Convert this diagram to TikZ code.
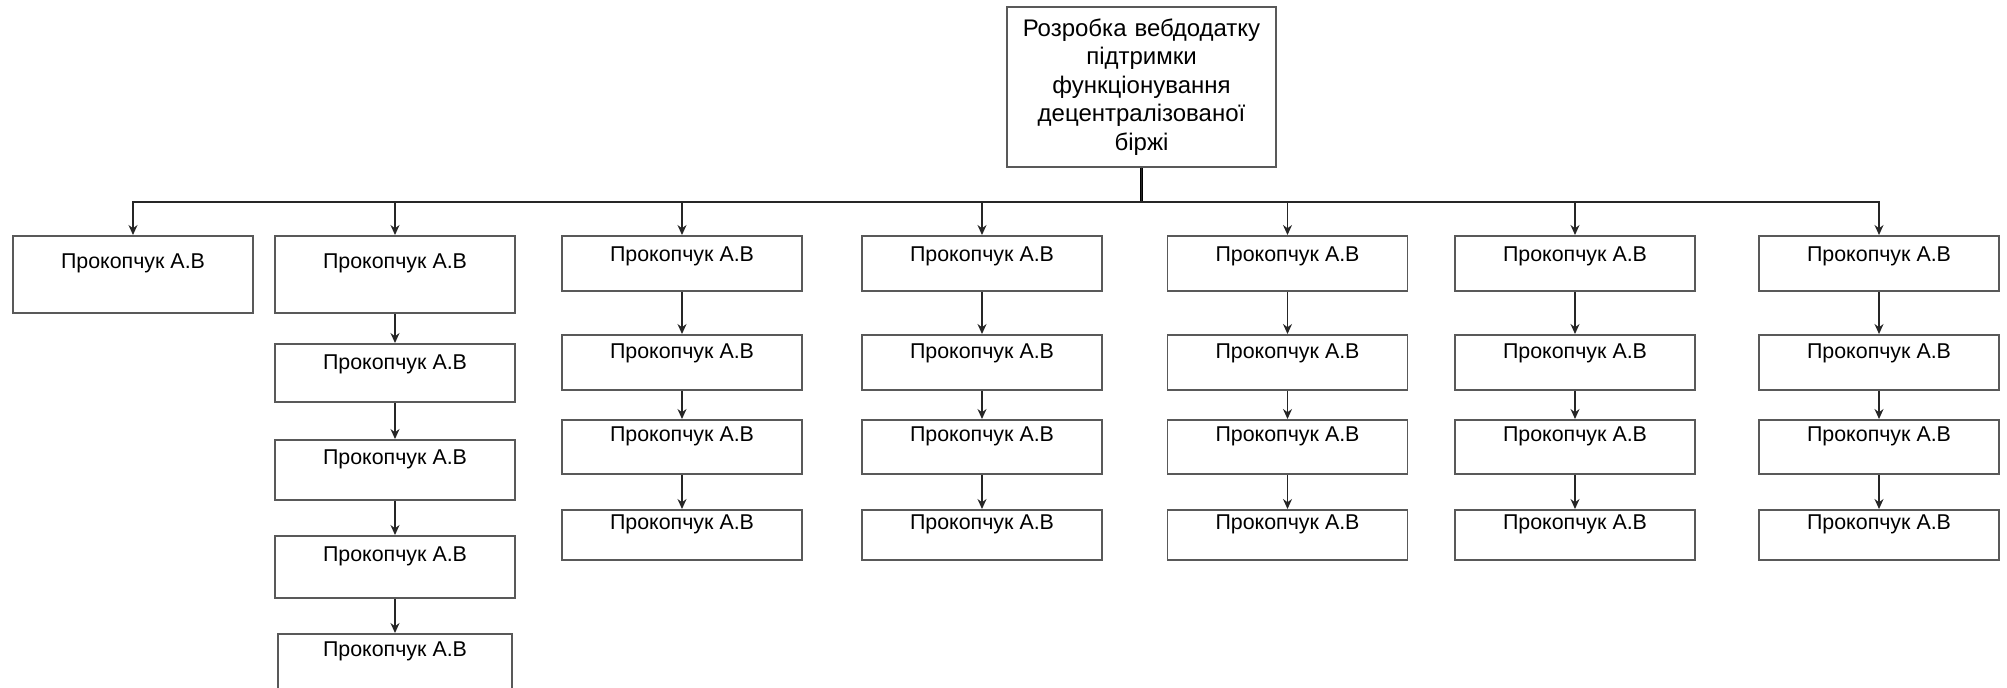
\documentclass[tikz,border=0pt]{standalone}
\usepackage{fontspec}
\setmainfont{Liberation Sans}
\usetikzlibrary{arrows.meta}

\tikzset{
  ramka/.style 2 args={draw=black!65, line width=0.9pt, minimum width=120pt, inner xsep=0pt, inner ysep=#1,
    text height=7.7pt, text depth=#2, anchor=north, font=\fontsize{10.7}{12}\selectfont},
  strilka/.style={-{Stealth[length=5pt,width=4.5pt]}, line width=0.7pt, black!85}
}

\begin{document}
\begin{tikzpicture}[x=0.5pt, y=-0.5pt]
\useasboundingbox (0,0) rectangle (2007,687);

% Головний блок
\node [draw=black!65, line width=0.9pt, minimum height=80pt, text width=130pt, inner xsep=2.25pt,
  align=center, font=\fontsize{12}{14.2}\selectfont] (korin) at (1141.5,87)
  {Розробка вебдодатку\\ підтримки\\ функціонування\\ децентралізованої\\ біржі};

% Рівень шини
\coordinate (shyna) at (1141.5,202);

% Стовпець 1
\node [ramka={8.5pt}{13.8pt}] (p11) at (133,235) {Прокопчук А.В};

% Стовпець 2
\node [ramka={8.5pt}{13.8pt}] (p21) at (395,235) {Прокопчук А.В};
\node [ramka={5pt}{11.3pt}] (p22) at (395,343) {Прокопчук А.В};
\node [ramka={4.5pt}{13.3pt}] (p23) at (395,439) {Прокопчук А.В};
\node [ramka={5pt}{13.3pt}] (p24) at (395,535) {Прокопчук А.В};
\node [ramka={3.5pt}{15.3pt}, minimum width=117pt] (p25) at (395,633) {Прокопчук А.В};

% Стовпець 3
\node [ramka={5pt}{9.8pt}] (p31) at (682,235) {Прокопчук А.В};
\node [ramka={4pt}{11.8pt}] (p32) at (682,334) {Прокопчук А.В};
\node [ramka={3pt}{13.3pt}] (p33) at (682,419) {Прокопчук А.В};
\node [ramka={2pt}{13.3pt}] (p34) at (682,509) {Прокопчук А.В};

% Стовпець 4
\node [ramka={5pt}{9.8pt}] (p41) at (982,235) {Прокопчук А.В};
\node [ramka={4pt}{11.8pt}] (p42) at (982,334) {Прокопчук А.В};
\node [ramka={3pt}{13.3pt}] (p43) at (982,419) {Прокопчук А.В};
\node [ramka={2pt}{13.3pt}] (p44) at (982,509) {Прокопчук А.В};

% Стовпець 5
\node [ramka={5pt}{9.8pt}] (p51) at (1287.5,235) {Прокопчук А.В};
\node [ramka={4pt}{11.8pt}] (p52) at (1287.5,334) {Прокопчук А.В};
\node [ramka={3pt}{13.3pt}] (p53) at (1287.5,419) {Прокопчук А.В};
\node [ramka={2pt}{13.3pt}] (p54) at (1287.5,509) {Прокопчук А.В};

% Стовпець 6
\node [ramka={5pt}{9.8pt}] (p61) at (1575,235) {Прокопчук А.В};
\node [ramka={4pt}{11.8pt}] (p62) at (1575,334) {Прокопчук А.В};
\node [ramka={3pt}{13.3pt}] (p63) at (1575,419) {Прокопчук А.В};
\node [ramka={2pt}{13.3pt}] (p64) at (1575,509) {Прокопчук А.В};

% Стовпець 7
\node [ramka={5pt}{9.8pt}] (p71) at (1879,235) {Прокопчук А.В};
\node [ramka={4pt}{11.8pt}] (p72) at (1879,334) {Прокопчук А.В};
\node [ramka={3pt}{13.3pt}] (p73) at (1879,419) {Прокопчук А.В};
\node [ramka={2pt}{13.3pt}] (p74) at (1879,509) {Прокопчук А.В};

% Зв'язки від головного блока
\draw [line width=1.4pt, black] (korin.south) -- (shyna);
\draw [strilka] (korin.south) |- (shyna -| p11) -- (p11.north);
\draw [strilka] (korin.south) |- (shyna -| p21) -- (p21.north);
\draw [strilka] (korin.south) |- (shyna -| p31) -- (p31.north);
\draw [strilka] (korin.south) |- (shyna -| p41) -- (p41.north);
\draw [strilka] (korin.south) |- (shyna -| p51) -- (p51.north);
\draw [strilka] (korin.south) |- (shyna -| p61) -- (p61.north);
\draw [strilka] (korin.south) |- (shyna -| p71) -- (p71.north);

% Зв'язки всередині стовпців
\draw [strilka] (p21) -- (p22);
\draw [strilka] (p22) -- (p23);
\draw [strilka] (p23) -- (p24);
\draw [strilka] (p24) -- (p25);
\draw [strilka] (p31) -- (p32);
\draw [strilka] (p32) -- (p33);
\draw [strilka] (p33) -- (p34);
\draw [strilka] (p41) -- (p42);
\draw [strilka] (p42) -- (p43);
\draw [strilka] (p43) -- (p44);
\draw [strilka] (p51) -- (p52);
\draw [strilka] (p52) -- (p53);
\draw [strilka] (p53) -- (p54);
\draw [strilka] (p61) -- (p62);
\draw [strilka] (p62) -- (p63);
\draw [strilka] (p63) -- (p64);
\draw [strilka] (p71) -- (p72);
\draw [strilka] (p72) -- (p73);
\draw [strilka] (p73) -- (p74);

\end{tikzpicture}
\end{document}
